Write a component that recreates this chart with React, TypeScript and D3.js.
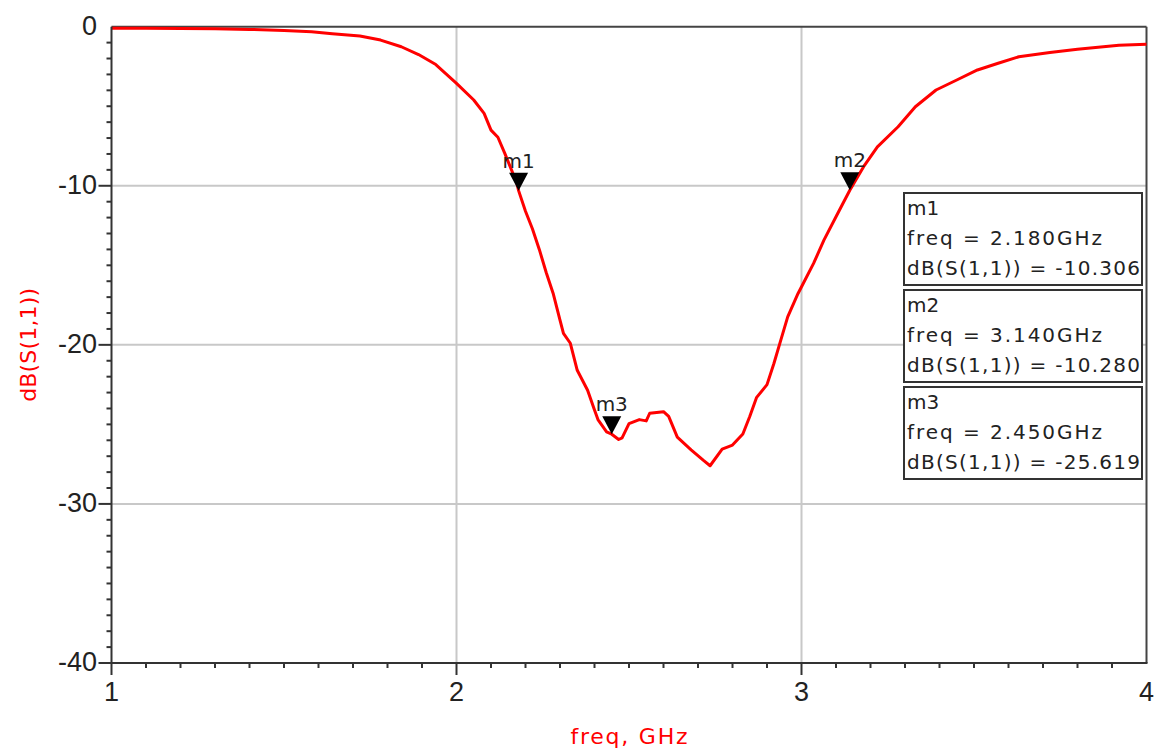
import * as d3 from "d3";

// S11 trace (freq in GHz, magnitude in dB)
const FREQ = [
  1.0, 1.1, 1.2, 1.3, 1.4, 1.5, 1.58, 1.64, 1.72, 1.78, 1.84, 1.89, 1.94, 2.0,
  2.05, 2.08, 2.1, 2.12, 2.14, 2.175, 2.18, 2.2, 2.22, 2.24, 2.26, 2.28, 2.3,
  2.31, 2.33, 2.35, 2.38, 2.4, 2.41, 2.435, 2.45, 2.47, 2.48, 2.5, 2.53, 2.55,
  2.56, 2.6, 2.615, 2.64, 2.68, 2.715, 2.735, 2.77, 2.8, 2.83, 2.85, 2.87, 2.9,
  2.92, 2.94, 2.96, 2.99, 3.005, 3.035, 3.065, 3.1, 3.14, 3.18, 3.22, 3.28,
  3.33, 3.39, 3.45, 3.51, 3.57, 3.63, 3.72, 3.8, 3.92, 4.0,
];
const DB = [
  -0.1, -0.1, -0.11, -0.13, -0.17, -0.24, -0.32, -0.44, -0.58, -0.84, -1.26,
  -1.75, -2.38, -3.56, -4.61, -5.45, -6.5, -6.95, -7.96, -9.85, -10.306, -11.6,
  -12.7, -14.0, -15.45, -16.75, -18.45, -19.28, -19.9, -21.6, -22.85, -24.1,
  -24.7, -25.47, -25.619, -25.95, -25.85, -24.95, -24.7, -24.78, -24.3, -24.2,
  -24.5, -25.8, -26.6, -27.25, -27.6, -26.55, -26.3, -25.6, -24.5, -23.3, -22.5,
  -21.17, -19.7, -18.24, -16.77, -16.14, -14.88, -13.42, -11.95, -10.28, -8.8,
  -7.55, -6.29, -5.03, -3.98, -3.35, -2.72, -2.3, -1.89, -1.62, -1.42, -1.17,
  -1.11,
];

const MARKER_NAMES = ["m1", "m2", "m3"];
const MARKER_FREQ = [2.18, 3.14, 2.45];
const MARKER_DB = [-10.306, -10.28, -25.619];

const X_TICKS = [1, 2, 3, 4];
const Y_TICKS = [0, -10, -20, -30, -40];

const W = 1157;
const H = 754;
const plot = { left: 111.5, right: 1146.5, top: 26.7, bottom: 663 };

const TICK_FONT = "'Liberation Sans', Arial, sans-serif";
const TEXT_FONT = "'DejaVu Sans', Verdana, sans-serif";

export default function App() {
  const x = d3.scaleLinear().domain([1, 4]).range([plot.left, plot.right]);
  const y = d3.scaleLinear().domain([-40, 0]).range([plot.bottom, plot.top]);

  const pts = FREQ.map((f, i) => [f, DB[i]] as [number, number]);
  const line = d3
    .line<[number, number]>()
    .x((d) => x(d[0]))
    .y((d) => y(d[1]));

  const xMinor = d3.range(1, 4.0001, 0.1).filter((v) => Math.abs(v - Math.round(v)) > 1e-6);
  const yMinor = d3.range(-40, 0.0001, 1).filter((v) => v % 10 !== 0);

  const boxTop = [193, 290, 387];

  return (
    <svg
      width={W}
      height={H}
      style={{ position: "absolute", left: 0, top: 0, background: "#fff" }}
    >
      {/* grid */}
      {[2, 3].map((v) => (
        <line key={"gx" + v} x1={x(v)} x2={x(v)} y1={plot.top} y2={plot.bottom}
          stroke="#c8c8c8" strokeWidth={2} />
      ))}
      {[-10, -20, -30].map((v) => (
        <line key={"gy" + v} x1={plot.left} x2={plot.right} y1={y(v)} y2={y(v)}
          stroke="#c8c8c8" strokeWidth={2} />
      ))}

      {/* frame */}
      <line x1={plot.left} x2={plot.right} y1={plot.top} y2={plot.top} stroke="#444" strokeWidth={2} />
      <line x1={plot.right} x2={plot.right} y1={plot.top} y2={plot.bottom} stroke="#444" strokeWidth={2} />

      {/* trace */}
      <path d={line(pts) ?? ""} fill="none" stroke="#ff0000" strokeWidth={3} strokeLinejoin="round" />

      {/* axes */}
      <line x1={plot.left} x2={plot.left} y1={plot.top} y2={plot.bottom + 1} stroke="#333" strokeWidth={2} />
      <line x1={plot.left} x2={plot.right + 1} y1={plot.bottom} y2={plot.bottom} stroke="#333" strokeWidth={2} />

      {xMinor.map((v) => (
        <line key={"xm" + v} x1={x(v)} x2={x(v)} y1={plot.bottom} y2={plot.bottom + 5}
          stroke="#333" strokeWidth={2} />
      ))}
      {[1, 2, 3].map((v) => (
        <line key={"xM" + v} x1={x(v)} x2={x(v)} y1={plot.bottom} y2={plot.bottom + 12}
          stroke="#333" strokeWidth={2} />
      ))}
      {yMinor.map((v) => (
        <line key={"ym" + v} x1={plot.left - 5} x2={plot.left} y1={y(v)} y2={y(v)}
          stroke="#333" strokeWidth={2} />
      ))}
      {[-10, -20, -30, -40].map((v) => (
        <line key={"yM" + v} x1={plot.left - 13} x2={plot.left} y1={y(v)} y2={y(v)}
          stroke="#333" strokeWidth={2} />
      ))}

      {X_TICKS.map((v) => (
        <text key={"xl" + v} x={x(v)} y={701} textAnchor="middle"
          fontFamily={TICK_FONT} fontSize={27} fill="#222">
          {v}
        </text>
      ))}
      {Y_TICKS.map((v) => (
        <text key={"yl" + v} x={97} y={y(v) + 8} textAnchor="end"
          fontFamily={TICK_FONT} fontSize={27} fill="#222">
          {v}
        </text>
      ))}

      {/* axis titles */}
      <text x={(plot.left + plot.right) / 2} y={744} textAnchor="middle"
        fontFamily={TEXT_FONT} fontSize={22} fill="#ff0000"
        textLength={117} lengthAdjust="spacing">
        freq, GHz
      </text>
      <text transform={`translate(36,${(plot.top + plot.bottom) / 2}) rotate(-90)`}
        textAnchor="middle" fontFamily={TEXT_FONT} fontSize={22} fill="#ff0000"
        textLength={114} lengthAdjust="spacing">
        dB(S(1,1))
      </text>

      {/* markers */}
      {MARKER_NAMES.map((m, i) => {
        const mx = x(MARKER_FREQ[i]);
        const my = y(MARKER_DB[i]);
        return (
          <g key={m}>
            <path d={`M${mx - 9.5},${my - 18}L${mx + 9.5},${my - 18}L${mx},${my}Z`} fill="#000" />
            <text x={mx} y={my - 23} textAnchor="middle" fontFamily={TEXT_FONT}
              fontSize={20} fill="#222">
              {m}
            </text>
          </g>
        );
      })}

      {/* marker readouts */}
      {MARKER_NAMES.map((m, i) => {
        const t = boxTop[i];
        return (
          <g key={"box" + m}>
            <rect x={904} y={t} width={238} height={92} fill="#fff" stroke="#333" strokeWidth={2} />
            <text x={907} y={t + 22} fontFamily={TEXT_FONT} fontSize={20} fill="#222">
              {m}
            </text>
            <text x={907} y={t + 52} fontFamily={TEXT_FONT} fontSize={20} fill="#222"
              textLength={195} lengthAdjust="spacing">
              {`freq = ${MARKER_FREQ[i].toFixed(3)}GHz`}
            </text>
            <text x={907} y={t + 82} fontFamily={TEXT_FONT} fontSize={20} fill="#222"
              textLength={233} lengthAdjust="spacing">
              {`dB(S(1,1)) = ${MARKER_DB[i].toFixed(3)}`}
            </text>
          </g>
        );
      })}
    </svg>
  );
}
